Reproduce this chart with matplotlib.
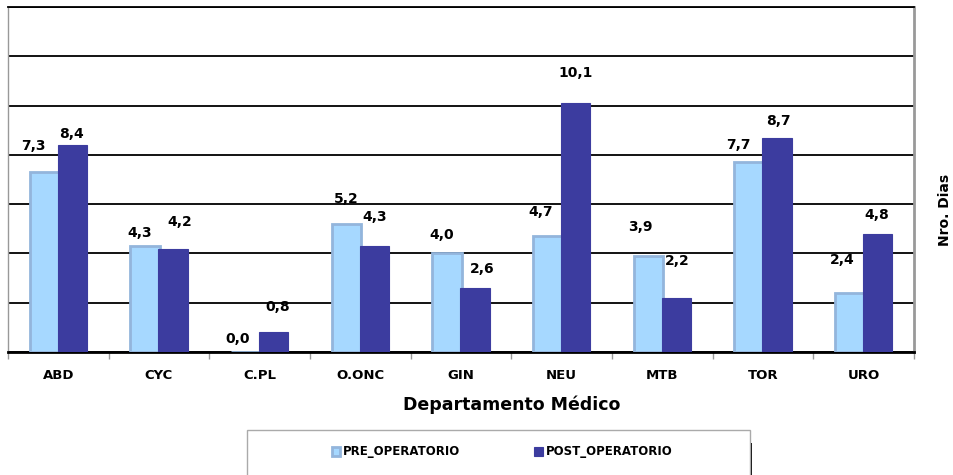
import numpy as np
import matplotlib.pyplot as plt
from matplotlib.patches import Rectangle

# days per department, pre / post surgery
departamentos = ['ABD', 'CYC', 'C.PL', 'O.ONC', 'GIN', 'NEU', 'MTB', 'TOR', 'URO']
pre_operatorio = [7.3, 4.3, 0.0, 5.2, 4.0, 4.7, 3.9, 7.7, 2.4]
post_operatorio = [8.4, 4.2, 0.8, 4.3, 2.6, 10.1, 2.2, 8.7, 4.8]

# label nudges (pixels) to mimic the excel placement
pre_off = [(-11, 26), (-5, 13), (-8, 13), (0, 25), (-5, 18), (-7, 24), (-8, 29), (-11, 17), (-7, 33)]
post_off = [(-1, 11), (7, 27), (4, 25), (0, 29), (7, 19), (0, 30), (1, 37), (1, 17), (-1, 19)]

pre_color = '#A6D8FF'
pre_edge = '#93B5DC'
post_color = '#3C3C9F'

ind = np.arange(len(departamentos))
width = 0.29

fig = plt.figure(figsize=(9.54, 4.75), dpi=100)
ax = fig.add_axes([8/954, 1-352/475, 906/954, 345/475])

b1 = ax.bar(ind - 0.14, pre_operatorio, width, color=pre_color, edgecolor=pre_edge,
            linewidth=2, label='PRE_OPERATORIO', zorder=3)
b2 = ax.bar(ind + 0.14, post_operatorio, width, color=post_color, edgecolor=post_color,
            linewidth=0.8, label='POST_OPERATORIO', zorder=3)

def fmt(v):
    return ('%.1f' % v).replace('.', ',')

for i in ind:
    ax.annotate(fmt(pre_operatorio[i]), (i - 0.14, pre_operatorio[i]), xytext=pre_off[i],
                textcoords='offset pixels', ha='center', va='center',
                fontsize=10, fontweight='bold', zorder=5)
    ax.annotate(fmt(post_operatorio[i]), (i + 0.14, post_operatorio[i]), xytext=post_off[i],
                textcoords='offset pixels', ha='center', va='center',
                fontsize=10, fontweight='bold', zorder=5)

ax.set_xlim(-0.5, len(departamentos) - 0.5)
ax.set_ylim(0, 14)
ax.set_yticks(np.arange(0, 15, 2))
ax.set_yticklabels([])
ax.tick_params(axis='y', length=0)
ax.yaxis.grid(True, color='black', linewidth=1.3, zorder=1)

ax.set_xticks(ind)
ax.set_xticklabels(departamentos, fontsize=9.5, fontweight='bold')
ax.set_xticks(np.arange(-0.5, len(departamentos)), minor=True)
ax.tick_params(axis='x', which='major', length=0, pad=12)
ax.tick_params(axis='x', which='minor', length=5, color='#999999', width=1)

ax.spines['top'].set_color('black')
ax.spines['top'].set_linewidth(1.3)
ax.spines['left'].set_color('#999999')
ax.spines['left'].set_linewidth(1)
ax.spines['right'].set_color('#999999')
ax.spines['right'].set_linewidth(2)
ax.spines['bottom'].set_color('black')
ax.spines['bottom'].set_linewidth(2)

ax.set_xlabel('Departamento Médico', fontsize=12.5, fontweight='bold')
ax.xaxis.set_label_coords((512 - 8) / 906, (352 - 396) / 345)
fig.text(945/954, 1-210/475, 'Nro. Dias', rotation=90, fontsize=10, fontweight='bold',
         ha='center', va='center')

# legend box with shadow
fig.patches.append(Rectangle((250/954, -0.02), 502/954, 42/475, transform=fig.transFigure,
                             facecolor='black', edgecolor='none', zorder=0))
fig.patches.append(Rectangle((247/954, -0.02), 503/954, 45/475 + 0.02, transform=fig.transFigure,
                             facecolor='white', edgecolor='#AAAAAA', linewidth=1, zorder=1))
fig.legend(handles=[b1, b2], loc='center', bbox_to_anchor=(502/954, 1-452/475), ncol=2,
           frameon=False, prop={'weight': 'bold', 'size': 8.5}, handlelength=0.7,
           handleheight=0.7, handletextpad=0.25, columnspacing=6.3)

plt.savefig('out.png', dpi=100)
